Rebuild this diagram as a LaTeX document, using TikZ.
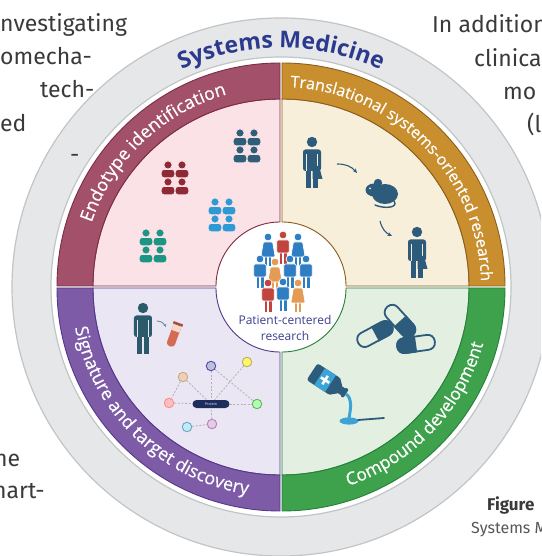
\documentclass[tikz,border=0pt]{standalone}
\usepackage{fontspec}
\setmainfont{Open Sans}
\newfontfamily\bodyfont{Fira Sans}
\newfontfamily\bandfont[FakeBold=0.5]{Open Sans}
\usetikzlibrary{decorations.text,arrows.meta}

% wheel colours
\definecolor{ringfill}{HTML}{E6E7E8}
\definecolor{ringline}{HTML}{C2C4C6}
\definecolor{titleblue}{HTML}{2B3A8E}
\definecolor{endoband}{HTML}{A3506A}
\definecolor{endotint}{HTML}{FBE2E7}
\definecolor{endoedge}{HTML}{7C2D45}
\definecolor{transband}{HTML}{C98F2F}
\definecolor{transtint}{HTML}{F8EFDA}
\definecolor{transedge}{HTML}{8C5E1E}
\definecolor{sigband}{HTML}{7D5BA6}
\definecolor{sigtint}{HTML}{EAE6F3}
\definecolor{sigedge}{HTML}{55388A}
\definecolor{compband}{HTML}{3DA24B}
\definecolor{comptint}{HTML}{E3EFE0}
\definecolor{compedge}{HTML}{26803A}
% icon colours
\definecolor{iconblue}{HTML}{2D5B7C}
\definecolor{folkteal}{HTML}{2B5B6B}
\definecolor{grpred}{HTML}{8F2A35}
\definecolor{grpnavy}{HTML}{2F5E79}
\definecolor{grpsky}{HTML}{2E9AD5}
\definecolor{grpteal}{HTML}{1D9585}
\definecolor{crowdblue}{HTML}{2F7DC3}
\definecolor{crowdred}{HTML}{C1453E}
\definecolor{crowdorange}{HTML}{E49B55}
\definecolor{labelnavy}{HTML}{3C3F8F}
\definecolor{liquidblue}{HTML}{3BA3D6}
\definecolor{tubered}{HTML}{D56A55}
\definecolor{tubecream}{HTML}{F6D9C6}
\definecolor{protnavy}{HTML}{1E2D5C}
\definecolor{pagetext}{HTML}{3A3A3A}

\tikzset{
  ring/.style={fill=ringfill, draw=ringline, line width=1.2pt},
  pageline/.style={font=\bodyfont\fontsize{23}{23}\selectfont, text=pagetext, inner sep=0pt, anchor=base west},
  centerlabel/.style={font=\fontsize{12}{12}\selectfont, text=labelnavy, inner sep=0pt},
  netnode/.style={circle, minimum size=9.5pt, inner sep=0pt, line width=0.9pt},
  netedge/.style={draw=black!30, line width=0.8pt, dash pattern=on 2pt off 1.6pt},
  protein/.style={rounded corners=4pt, fill=protnavy, minimum width=37pt, minimum height=8pt,
    inner sep=0pt, text=white, font=\fontsize{3.5}{3.5}\selectfont},
  flowarrow/.style={draw=iconblue, line width=1.1pt, -{Stealth[length=4.5pt,width=4pt]}},
  tubearrow/.style={draw=iconblue!70, line width=0.9pt, -{Stealth[length=3pt,width=3pt]}},
  capsule/.pic={
    \filldraw[fill=comptint, draw=iconblue, line width=1.8pt, rounded corners=7pt] (-19,-7.5) rectangle (19,7.5);
    \fill[iconblue] (0,-8.4) -- (11.5,-8.4) arc[start angle=-90, end angle=90, radius=8.4] -- (0,8.4) -- cycle;
  },
}

% one ring quadrant: start angle, shift x, shift y, band, tint, edge
\newcommand{\quadrantpiece}[6]{%
  \begin{scope}[shift={(#2,#3)}]
    \filldraw[fill=#5, draw=#6, line width=0.9pt]
      (#1:64) arc[start angle=#1, end angle=#1+90, radius=64]
      -- (#1+90:187) arc[start angle=#1+90, end angle=#1, radius=187] -- cycle;
    \filldraw[fill=#4, draw=#6, line width=0.9pt]
      (#1:187) arc[start angle=#1, end angle=#1+90, radius=187]
      -- (#1+90:223) arc[start angle=#1+90, end angle=#1, radius=223] -- cycle;
  \end{scope}}

% curved label: start angle, end angle, radius, font size, text
\newcommand{\bandlabel}[5]{%
  \path[decorate, decoration={text along path, text align=center,
      text={|\color{white}\bandfont\fontsize{#4}{#4}\selectfont|#5}}]
    (#1:#3) arc[start angle=#1, end angle=#2, radius=#3];}

% 2x2 block of head-and-shoulder icons
\newcommand{\fourfolk}[3]{%
  \begin{scope}[shift={(#1,#2)}]
    \foreach \dx/\dy in {-7/-8, 7/-8, -7/9, 7/9} {
      \filldraw[fill=#3, draw=endotint, line width=0.8pt] (\dx,\dy-4) circle[radius=4.1];
      \filldraw[fill=#3, draw=endotint, line width=0.8pt, rounded corners=3pt]
        (\dx-6.8,\dy+8.8) rectangle (\dx+6.8,\dy+0.4);
    }
  \end{scope}}

% standing person, head centre given
\newcommand{\standingfolk}[4]{%
  \begin{scope}[shift={(#1,#2)}]
    \fill[#3] (0,0) circle[radius=5.2];
    \fill[#3, rounded corners=2.5pt] (-9,7.5) rectangle (9,29);
    \fill[#3] (-5.8,27) rectangle (-0.7,46);
    \fill[#3] (0.7,27) rectangle (5.8,46);
    \draw[#4, line width=0.9pt] (-5.2,12) -- (-5.2,29.5) (5.2,12) -- (5.2,29.5);
  \end{scope}}
% skirt for the right half of a standing person
\newcommand{\halfskirt}[3]{%
  \fill[#3] (#1+0.7,#2+24) -- (#1+7,#2+24) -- (#1+10.5,#2+37) -- (#1+0.7,#2+37) -- cycle;}

% crowd figures
\newcommand{\crowdman}[3]{%
  \begin{scope}[shift={(#1,#2)}]
    \filldraw[fill=#3, draw=white, line width=0.7pt] (0,0) circle[radius=3.9];
    \filldraw[fill=#3, draw=white, line width=0.6pt] (-3.8,16) rectangle (-0.3,29) (0.3,16) rectangle (3.8,29);
    \filldraw[fill=#3, draw=white, line width=0.7pt, rounded corners=1.5pt] (-6.3,5) rectangle (6.3,18);
  \end{scope}}
\newcommand{\crowdwoman}[3]{%
  \begin{scope}[shift={(#1,#2)}]
    \filldraw[fill=#3, draw=white, line width=0.7pt] (0,0) circle[radius=3.9];
    \filldraw[fill=#3, draw=white, line width=0.6pt] (-3.3,18) rectangle (-0.4,29) (0.4,18) rectangle (3.3,29);
    \filldraw[fill=#3, draw=white, line width=0.7pt, rounded corners=1pt]
      (-4.6,5) -- (4.6,5) -- (7.2,20) -- (-7.2,20) -- cycle;
  \end{scope}}

\begin{document}
\begin{tikzpicture}[x=1pt, y=1pt]
  \path[use as bounding box] (-281,-269) rectangle (260,287);
  \clip (-281,-269) rectangle (260,287);
  \fill[white] (-281,-269) rectangle (260,287);

  % outer grey ring with its title
  \path[ring, even odd rule] (0,0) circle[radius=269] (0,0) circle[radius=230];
  \path[decorate, decoration={text along path, text align=center,
      text={|\color{titleblue}\bfseries\fontsize{23}{23}\selectfont|Systems Medicine}}]
    (135:239) arc[start angle=135, end angle=45, radius=239];

  % the four quadrants
  \quadrantpiece{0}{1}{1}{transband}{transtint}{transedge}
  \quadrantpiece{90}{-1}{1}{endoband}{endotint}{endoedge}
  \quadrantpiece{180}{-1}{-1}{sigband}{sigtint}{sigedge}
  \quadrantpiece{270}{1}{-1}{compband}{comptint}{compedge}

  % quadrant titles
  \bandlabel{178}{89}{200}{18}{Endotype identification}
  \bandlabel{90}{-1}{200}{16}{Translational systems-oriented research}
  \bandlabel{181}{271}{210}{18}{Signature and target discovery}
  \bandlabel{271.5}{361.5}{210}{17.5}{Compound development}

  % everything below is placed in page pixel coordinates (y downwards)
  \begin{scope}[shift={(-281,287)}, yscale=-1]

    % endotype groups
    \fourfolk{175}{177}{grpred}
    \fourfolk{247}{145}{grpnavy}
    \fourfolk{222}{214}{grpsky}
    \fourfolk{153}{245}{grpteal}

    % translational research: human -> mouse -> human
    \standingfolk{312}{142}{iconblue}{transtint}
    \halfskirt{312}{142}{iconblue}
    \standingfolk{417}{232}{iconblue}{transtint}
    \halfskirt{417}{232}{iconblue}
    \begin{scope}[shift={(384,193)}]
      \draw[iconblue, line width=1.4pt, line cap=round] (10,8) .. controls (15,15) and (0,16) .. (-9,12);
      \fill[iconblue] (1,1) ellipse[x radius=13, y radius=10];
      \fill[iconblue] (-10,-3) ellipse[x radius=8.5, y radius=6.5];
      \fill[iconblue] (-6,-10) circle[radius=4.2];
      \fill[transtint] (-14,-4.5) circle[radius=1];
    \end{scope}
    \coordinate (m1) at (337,164);
    \coordinate (m2) at (357,173);
    \coordinate (m3) at (380,221);
    \coordinate (m4) at (392,236);
    \draw[flowarrow] (m1) to[bend right=25] (m2);
    \draw[flowarrow] (m3) to[bend left=25] (m4);

    % signature discovery: sample and protein network
    \standingfolk{143}{308}{folkteal}{sigtint}
    \begin{scope}[shift={(174,335)}, rotate=20]
      \fill[tubered, rounded corners=3.5pt] (-4.2,-12) rectangle (4.2,12);
      \fill[tubecream] (-4.2,-10.5) rectangle (4.2,-4);
      \fill[tubered!75!black] (-5,-13) rectangle (5,-10.5);
    \end{scope}
    \coordinate (t1) at (157,321);
    \coordinate (t2) at (166,327);
    \draw[tubearrow] (t1) to[bend right=30] (t2);

    \node[protein] (prot) at (211,404) {Protein};
    \node[netnode, fill=brown!35, draw=brown!70] (n1) at (183,377) {};
    \node[netnode, fill=blue!25!gray!40, draw=blue!40!gray] (n2) at (211,366) {};
    \node[netnode, fill=yellow!60, draw=yellow!60!black!80] (n3) at (247,362) {};
    \node[netnode, fill=red!25, draw=red!45] (n4) at (169,403) {};
    \node[netnode, fill=green!30, draw=green!50!black!60] (n5) at (257,404) {};
    \node[netnode, fill=violet!20, draw=violet!50] (n6) at (212,424) {};
    \node[netnode, fill=cyan!25, draw=cyan!60!black!70] (n7) at (187,427) {};
    \draw[netedge] (n1) -- (prot);
    \draw[netedge] (n1) -- (n4);
    \draw[netedge] (n2) -- (prot);
    \draw[netedge] (n2) -- (n5);
    \draw[netedge] (n3) -- (prot);
    \draw[netedge] (n4) -- (prot);
    \draw[netedge] (prot) -- (n5);
    \draw[netedge] (n6) -- (prot);
    \draw[netedge] (n7) -- (n6);

    % compound development: capsules, bottle and spoon
    \pic[rotate=28] at (375,334) {capsule};
    \pic[rotate=188] at (416,344) {capsule};
    \pic[rotate=-48] at (400,321) {capsule};
    \begin{scope}[shift={(328,382)}, rotate=33]
      \fill[iconblue, rounded corners=2.5pt] (-19,-10) rectangle (9,10);
      \fill[iconblue] (8,-10) -- (14,-4.5) -- (14,4.5) -- (8,10) -- cycle;
      \fill[iconblue] (13,-4) rectangle (19,4);
      \fill[iconblue, rounded corners=1pt] (18,-5) rectangle (21.5,5);
      \fill[liquidblue] (-10,-10) rectangle (3,10);
      \fill[white] (-4.8,-5) rectangle (-2.2,5) (-8.5,-1.3) rectangle (1.5,1.3);
    \end{scope}
    \draw[liquidblue, line width=3pt] (346,394) .. controls (352,398) and (351,408) .. (349,418);
    \fill[liquidblue] (349,421) ellipse[x radius=9.5, y radius=3.6];
    \draw[iconblue, line width=1.8pt, line cap=round] (358,420) -- (384,418);

    % patient-centred core
    \crowdwoman{268}{237}{crowdblue}
    \crowdman{283}{235}{crowdred}
    \crowdwoman{298}{237}{crowdblue}
    \crowdman{260}{259}{crowdblue}
    \crowdman{290}{259}{crowdblue}
    \crowdman{306}{259}{crowdblue}
    \crowdwoman{275}{262}{crowdorange}
    \crowdman{268}{283}{crowdred}
    \crowdman{283}{282}{crowdblue}
    \crowdwoman{298}{283}{crowdorange}
    \node[centerlabel] (pc1) at (285,320) {Patient-centered};
    \node[centerlabel] (pc2) at (285,336) {research};

    % surrounding page text
    \node[pageline] (l1) at (0,32) {nvestigating};
    \node[pageline] (l2) at (0,65) {omecha-};
    \node[pageline] (l3) at (40,98) {tech-};
    \node[pageline] (l4) at (0,132) {ed};
    \node[pageline] (l5) at (70,163) {-};
    \node[pageline] (r1) at (432,33) {In addition};
    \node[pageline] (r2) at (474,67) {clinical};
    \node[pageline] (r3) at (503,100) {mo};
    \node[pageline] (r4) at (527,133) {(l};
    \node[pageline] (b1) at (-6,466) {he};
    \node[pageline] (b2) at (-7,498) {hart-};
    \node[pageline, font=\bodyfont\bfseries\fontsize{17}{17}\selectfont] (f1) at (487,510) {Figure};
    \node[pageline, font=\bodyfont\fontsize{16}{16}\selectfont, text=pagetext!85] (f2) at (471,533) {Systems M};
  \end{scope}
\end{tikzpicture}
\end{document}
